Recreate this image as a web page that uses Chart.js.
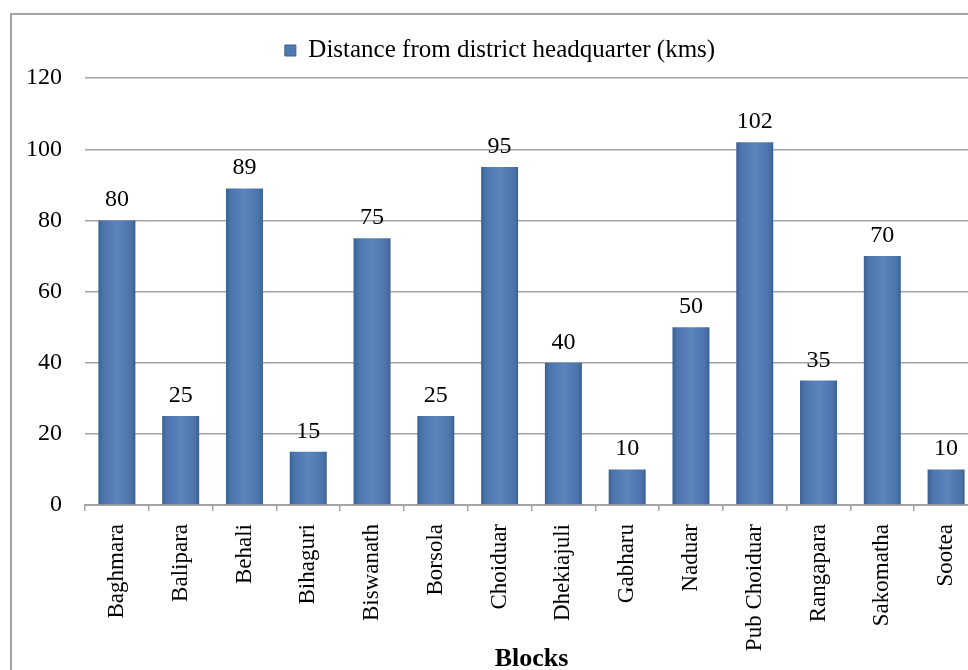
<!DOCTYPE html>
<html>
<head>
<meta charset="utf-8">
<script src="https://cdn.jsdelivr.net/npm/chart.js@4/dist/chart.umd.min.js"></script>
<style>
html,body{margin:0;padding:0;background:#fff;overflow:hidden;width:968px;height:670px;}
#wrap{position:absolute;left:0;top:0;width:990px;height:690px;}
canvas{display:block;}
</style>
</head>
<body>
<div id="wrap"><canvas id="c" width="990" height="690"></canvas></div>
<script>
const categories = ['Baghmara','Balipara','Behali','Bihaguri','Biswanath','Borsola','Choiduar','Dhekiajuli','Gabharu','Naduar','Pub Choiduar','Rangapara','Sakomatha','Sootea'];
const distances = [80,25,89,15,75,25,95,40,10,50,102,35,70,10];
const seriesName = 'Distance from district headquarter (kms)';
const yTicks = [0,20,40,60,80,100,120];
const xTitle = 'Blocks';

const FONT = "'Liberation Serif','Times New Roman',serif";
const BAR_PCT = 0.58;

function barGradient(ctx){
  const chart = ctx.chart;
  const xs = chart.scales.x;
  if (!xs || ctx.dataIndex === undefined) return '#4f7bb3';
  const cx = xs.getPixelForValue(ctx.dataIndex);
  const slot = (xs.right - xs.left) / categories.length;
  const w = slot * BAR_PCT;
  const g = chart.ctx.createLinearGradient(cx - w/2, 0, cx + w/2, 0);
  g.addColorStop(0, '#3b6195');
  g.addColorStop(0.12, '#4b74aa');
  g.addColorStop(0.5, '#5a85bd');
  g.addColorStop(0.88, '#4b74aa');
  g.addColorStop(1, '#3b6195');
  return g;
}

const frame = {
  id: 'frame',
  beforeDraw(chart){
    const c = chart.ctx;
    c.save();
    c.fillStyle = '#fff';
    c.fillRect(0,0,chart.width,chart.height);
    c.strokeStyle = '#a3a3a3';
    c.lineWidth = 2;
    c.strokeRect(11, 14, 1100, 900);
    c.restore();
  }
};

const valueLabels = {
  id: 'valueLabels',
  afterDatasetsDraw(chart){
    const c = chart.ctx;
    const meta = chart.getDatasetMeta(0);
    c.save();
    c.font = '24px ' + FONT;
    c.fillStyle = '#000';
    c.textAlign = 'center';
    c.textBaseline = 'alphabetic';
    meta.data.forEach((el, i) => {
      c.fillText(String(distances[i]), el.x, el.y - 14);
    });
    c.restore();
  }
};

new Chart(document.getElementById('c'), {
  type: 'bar',
  data: {
    labels: categories,
    datasets: [{
      label: seriesName,
      data: distances,
      backgroundColor: barGradient,
      borderWidth: 0,
      categoryPercentage: 1,
      barPercentage: BAR_PCT
    }]
  },
  options: {
    responsive: false,
    animation: false,
    devicePixelRatio: 1,
    layout: { padding: { left: 22, right: 12, top: 29, bottom: 15 } },
    plugins: {
      tooltip: { enabled: false },
      subtitle: {
        display: true,
        text: '',
        weight: 500,
        position: 'top',
        font: { size: 1 },
        padding: { top: 0, bottom: 4 }
      },
      legend: {
        display: true,
        position: 'top',
        labels: {
          font: { family: FONT, size: 25 },
          color: '#000',
          boxWidth: 11,
          boxHeight: 11,
          padding: 9,
          generateLabels(chart){
            return [{
              text: seriesName,
              fillStyle: '#4f7bb3',
              strokeStyle: '#3b6195',
              lineWidth: 1,
              datasetIndex: 0,
              hidden: false
            }];
          }
        }
      }
    },
    scales: {
      x: {
        offset: true,
        grid: {
          display: true,
          offset: true,
          drawOnChartArea: false,
          drawTicks: true,
          tickLength: 6,
          color: '#a3a3a3',
          lineWidth: 1.5
        },
        border: { display: true, color: '#a3a3a3', width: 2 },
        ticks: {
          autoSkip: false,
          maxRotation: 90,
          minRotation: 90,
          padding: 13,
          color: '#000',
          font: { family: FONT, size: 23 }
        },
        title: {
          display: true,
          text: xTitle,
          color: '#000',
          font: { family: FONT, size: 26, weight: 'bold' },
          padding: { top: 0, bottom: 0 }
        },
        afterFit(scale){ scale.height = 170; }
      },
      y: {
        min: 0,
        max: 120,
        afterBuildTicks(scale){ scale.ticks = yTicks.map(v => ({ value: v })); },
        grid: {
          drawTicks: false,
          color: '#a3a3a3',
          lineWidth: 1.5
        },
        border: { display: false },
        ticks: {
          padding: 23,
          color: '#000',
          font: { family: FONT, size: 24 }
        },
        afterFit(scale){ scale.width = 63; }
      }
    }
  },
  plugins: [frame, valueLabels]
});
</script>
</body>
</html>
